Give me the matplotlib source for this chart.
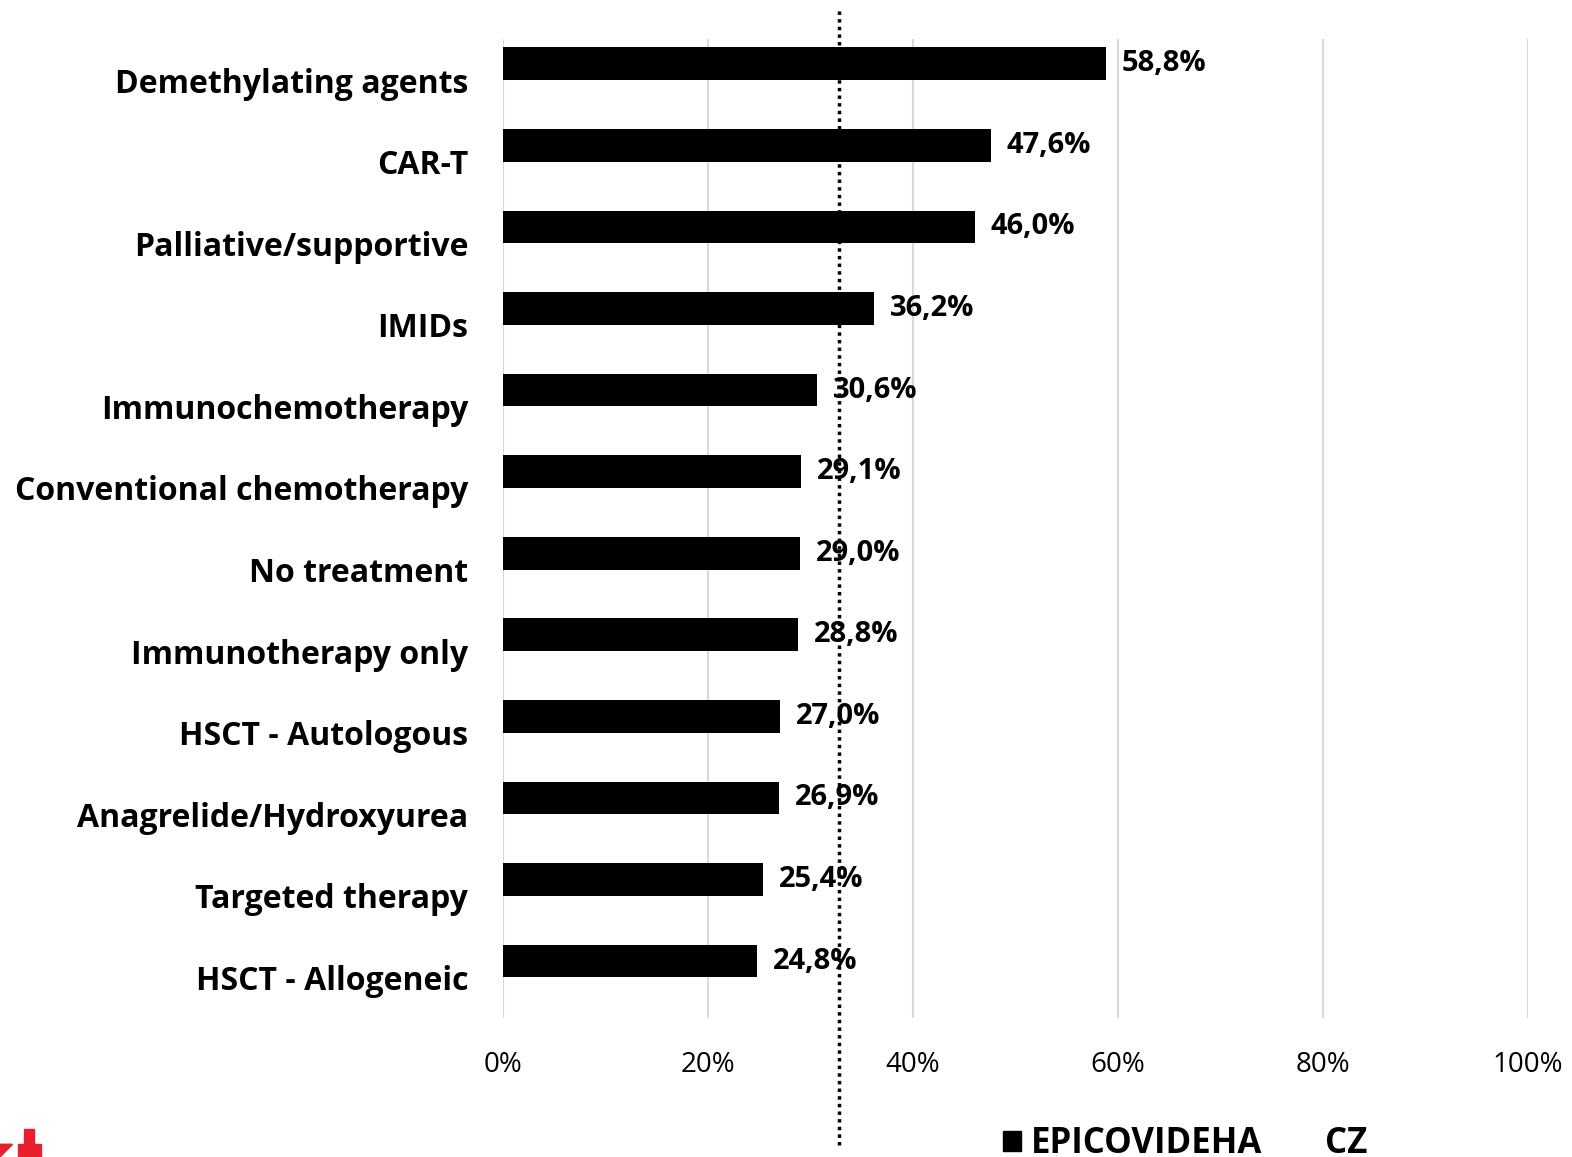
import matplotlib.pyplot as plt
from matplotlib.patches import Patch, Polygon
from matplotlib.lines import Line2D

plt.rcParams['font.family'] = ['Open Sans', 'DejaVu Sans']

# data
categories = ["Demethylating agents", "CAR-T", "Palliative/supportive", "IMIDs",
              "Immunochemotherapy", "Conventional chemotherapy", "No treatment",
              "Immunotherapy only", "HSCT - Autologous", "Anagrelide/Hydroxyurea",
              "Targeted therapy", "HSCT - Allogeneic"]
epicovideha = [58.8, 47.6, 46.0, 36.2, 30.6, 29.1, 29.0, 28.8, 27.0, 26.9, 25.4, 24.8]
cz_line = 32.8
x_ticks = [0, 20, 40, 60, 80, 100]

fig = plt.figure(figsize=(15.72, 11.57), dpi=100)
ax = fig.add_axes([0.32, 0.12, 0.652, 0.846])

pos = list(range(len(categories)))
bar_pos = [p - 0.2 for p in pos]
ax.barh(bar_pos, epicovideha, height=0.4, color="black", zorder=3)

for y, v in zip(bar_pos, epicovideha):
    ax.annotate(f"{v:.1f}%".replace(".", ","), (v, y), xytext=(11.5, 0),
                textcoords="offset points", ha="left", va="center",
                fontsize=21, fontweight="bold", zorder=5)

ax.set_xlim(0, 100)
ax.set_ylim(len(categories) - 0.5, -0.5)
ax.set_yticks(pos)
ax.set_yticklabels(categories, fontsize=23, fontweight="bold")
ax.set_xticks(x_ticks)
ax.set_xticklabels([f"{t}%" for t in x_ticks], fontsize=20)
ax.tick_params(axis="both", length=0)
ax.tick_params(axis="y", pad=25)
ax.tick_params(axis="x", pad=24)
for s in ax.spines.values():
    s.set_visible(False)
ax.grid(axis="x", color="#d9d9d9", linewidth=1.5, zorder=0)

# CZ reference line, runs past the plot area
ax.axvline(cz_line, ymin=-0.13, ymax=1.03, color="black", linestyle=(0, (1, 1.2)),
           linewidth=2.5, clip_on=False, zorder=4)

handles = [Patch(facecolor="black", edgecolor="black"),
           Line2D([], [], color="none")]
fig.legend(handles, ["EPICOVIDEHA", "CZ"], loc="center", bbox_to_anchor=(0.754, 0.011),
           ncol=2, frameon=False, prop={"size": 25, "weight": "bold"},
           handlelength=0.5, handleheight=0.5, handletextpad=0.3, columnspacing=1.0)

# cut-off logo in the corner
fig.patches.append(Polygon([[0.0, 0.011], [0.008, 0.011], [0.0, 0.0]], closed=True,
                           transform=fig.transFigure, color="#e8202e"))
fig.patches.append(Polygon([[0.018, 0.011], [0.0115, 0.011], [0.0115, 0.0], [0.026, 0.0],
                            [0.026, 0.011], [0.018, 0.011]], closed=True,
                           transform=fig.transFigure, color="#e8202e"))
fig.patches.append(Polygon([[0.0155, 0.024], [0.0215, 0.024], [0.0215, 0.0], [0.0155, 0.0]],
                           closed=True, transform=fig.transFigure, color="#e8202e"))

plt.savefig("out.png")
